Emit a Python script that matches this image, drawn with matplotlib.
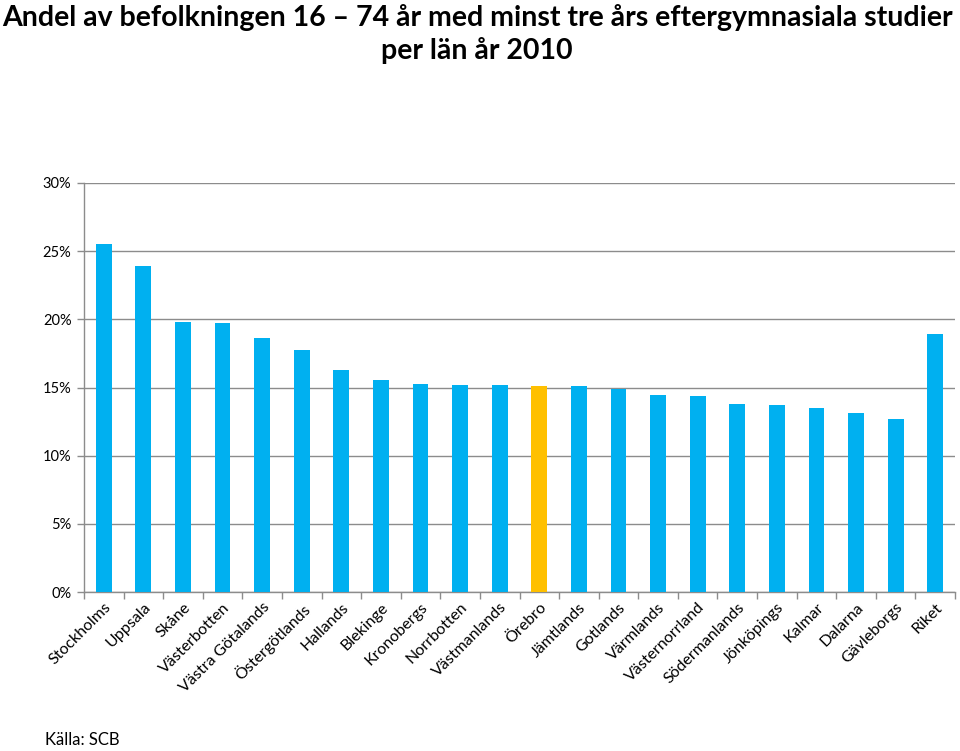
import matplotlib
matplotlib.use("Agg")
import matplotlib.pyplot as plt
import numpy as np
from matplotlib.ticker import FuncFormatter, FixedLocator

plt.rcParams['font.family'] = ['Lato', 'DejaVu Sans']

lan = ["Stockholms", "Uppsala", "Skåne", "Västerbotten", "Västra Götalands",
       "Östergötlands", "Hallands", "Blekinge", "Kronobergs", "Norrbotten",
       "Västmanlands", "Örebro", "Jämtlands", "Gotlands", "Värmlands",
       "Västernorrland", "Södermanlands", "Jönköpings", "Kalmar", "Dalarna",
       "Gävleborgs", "Riket"]
andel = [25.5, 23.9, 19.8, 19.75, 18.6, 17.75, 16.3, 15.55, 15.28, 15.15,
         15.15, 15.13, 15.1, 14.86, 14.44, 14.37, 13.76, 13.71, 13.49, 13.12,
         12.66, 18.9]
highlight = "Örebro"
yticks = [0, 5, 10, 15, 20, 25, 30]

blue = "#00B0F0"
orange = "#FFC000"
grid_c = "#8C8C8C"

fig = plt.figure(figsize=(9.6, 7.51), dpi=100)
ax = fig.add_axes([84/960, 1-592/751, 871/960, 409/751])

x = np.arange(len(lan))
colors = [orange if n == highlight else blue for n in lan]
ax.bar(x, andel, width=0.4, color=colors, zorder=3)

ax.set_xlim(-0.5, len(lan) - 0.5)
ax.set_ylim(0, 30)
ax.set_yticks(yticks)
ax.yaxis.set_major_formatter(FuncFormatter(lambda v, p: f"{int(v)}%"))
ax.grid(axis='y', color=grid_c, linewidth=1.0, zorder=0)
ax.set_axisbelow(True)

for s in ['top', 'right']:
    ax.spines[s].set_visible(False)
for s in ['left', 'bottom']:
    ax.spines[s].set_color(grid_c)
    ax.spines[s].set_linewidth(1.0)

ax.set_xticks(x)
ax.set_xticklabels(lan, rotation=45, ha='right', rotation_mode='anchor', fontsize=11.5)
ax.tick_params(axis='x', which='major', length=0, pad=6)
ax.xaxis.set_minor_locator(FixedLocator(np.arange(-0.5, len(lan), 1.0)))
ax.tick_params(axis='x', which='minor', length=5, color=grid_c, width=1)
ax.tick_params(axis='y', length=5, color=grid_c, width=1, labelsize=10.5, pad=4)

fig.text(0.497, 0.995, "Andel av befolkningen 16 – 74 år med minst tre års eftergymnasiala studier\nper län år 2010",
         ha='center', va='top', fontsize=20.5, fontweight='bold', linespacing=1.3)
fig.text(45/960, 1-748/751, "Källa: SCB", ha='left', va='bottom', fontsize=12)

fig.savefig("out.png", dpi=100)
